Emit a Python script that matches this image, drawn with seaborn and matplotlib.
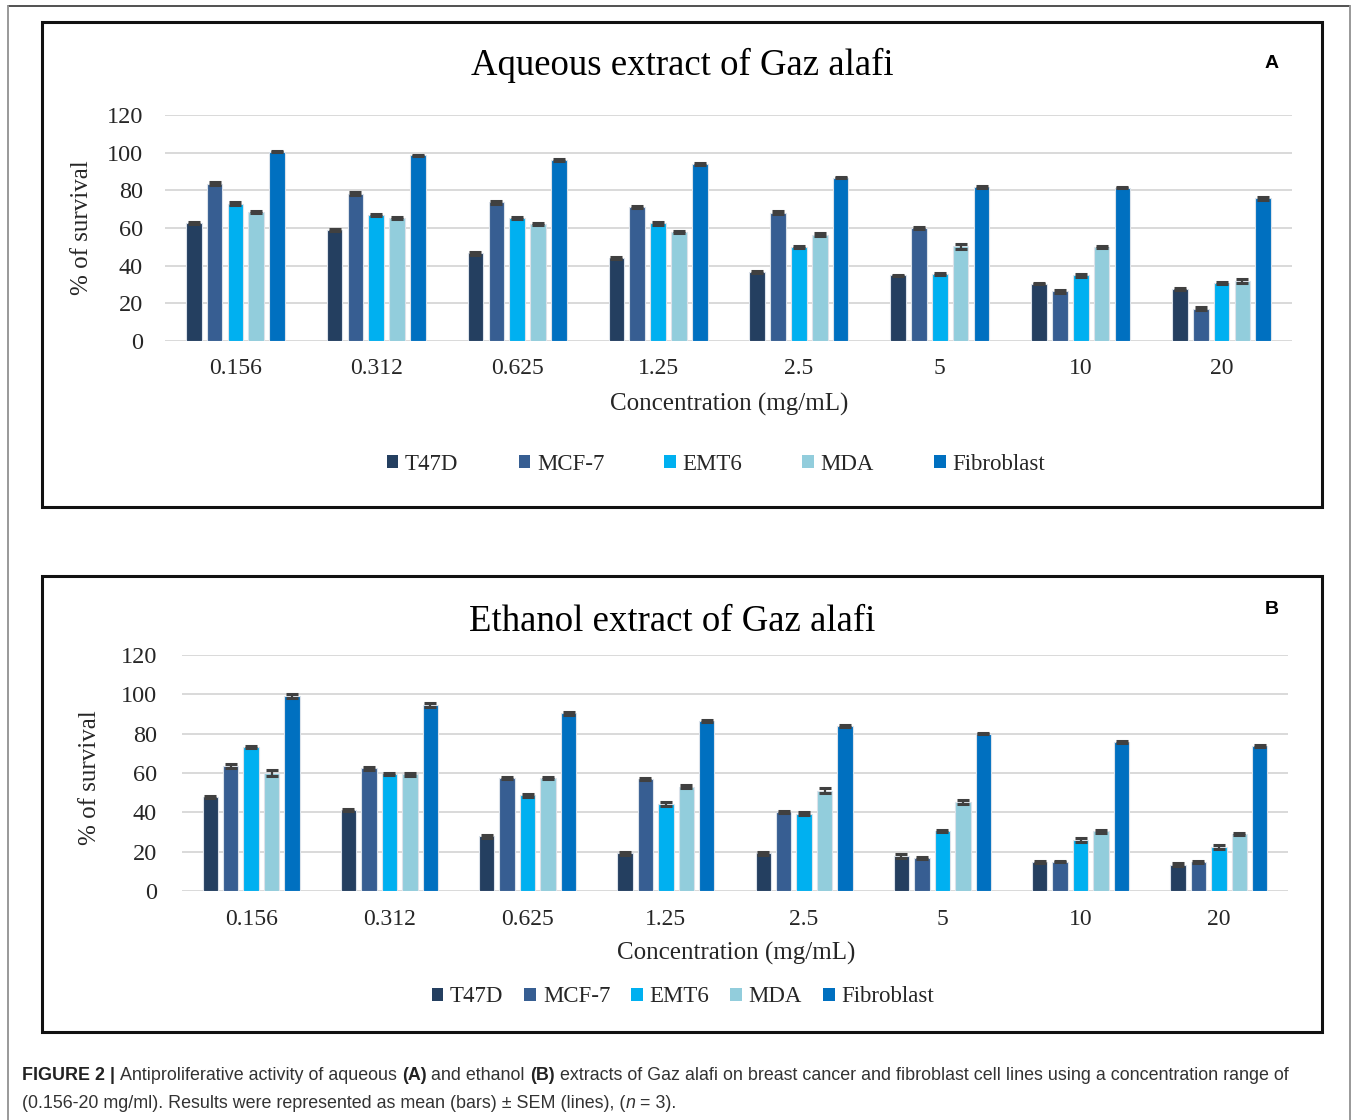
import matplotlib
matplotlib.use("Agg")
import matplotlib.pyplot as plt
import seaborn as sns
import numpy as np
import pandas as pd
from matplotlib import font_manager
from matplotlib.patches import Rectangle, Patch
from matplotlib.lines import Line2D

# ---- data ----
concentrations = ["0.156", "0.312", "0.625", "1.25", "2.5", "5", "10", "20"]
cell_lines = ["T47D", "MCF-7", "EMT6", "MDA", "Fibroblast"]
colors = ["#243F60", "#375E92", "#00B0F0", "#92CDDC", "#0070C0"]

# aqueous extract (A), one row per cell line
aq_means = [
    [62.5, 58.8, 46.6, 44.2, 36.7, 34.8, 30.5, 27.7],
    [83.5, 78.3, 73.6, 71.1, 68.2, 59.9, 26.4, 17.2],
    [73.0, 67.0, 65.2, 62.4, 50.0, 35.6, 34.8, 30.9],
    [68.4, 65.2, 62.0, 57.8, 56.5, 50.2, 50.0, 31.8],
    [100.6, 98.5, 96.0, 94.1, 86.8, 82.0, 81.5, 75.8],
]
aq_sem = [
    [0.5, 0.5, 0.8, 0.5, 0.5, 0.5, 0.5, 0.5],
    [0.8, 0.6, 0.7, 0.6, 0.7, 0.5, 0.7, 0.8],
    [0.7, 0.6, 0.6, 0.6, 0.5, 0.5, 0.6, 0.5],
    [0.7, 0.5, 0.6, 0.6, 0.7, 1.3, 0.5, 1.2],
    [0.5, 0.5, 0.6, 0.5, 0.5, 0.5, 0.5, 0.7],
]

# ethanol extract (B)
eth_means = [
    [47.9, 41.4, 27.9, 19.1, 19.1, 17.8, 14.7, 13.3],
    [63.6, 62.4, 57.4, 56.8, 40.3, 16.6, 15.0, 14.7],
    [73.0, 59.3, 48.7, 44.2, 39.3, 30.3, 25.9, 22.2],
    [60.0, 59.3, 57.5, 53.1, 51.0, 45.3, 30.3, 29.0],
    [99.2, 94.6, 90.3, 86.4, 84.0, 80.0, 75.7, 73.8],
]
eth_sem = [
    [0.5, 0.5, 0.8, 0.8, 0.8, 0.8, 0.7, 0.8],
    [1.2, 0.7, 0.6, 0.6, 0.4, 0.5, 0.5, 0.6],
    [0.5, 0.5, 0.7, 1.2, 0.8, 0.5, 0.8, 1.0],
    [1.3, 0.6, 0.5, 0.8, 1.2, 1.2, 0.8, 0.4],
    [0.9, 0.8, 0.6, 0.5, 0.5, 0.4, 0.4, 0.6],
]

W, H = 1357, 1120

sns.set_theme(style="white")
plt.rcParams["font.family"] = ["Liberation Serif", "DejaVu Serif"]

available = {f.name for f in font_manager.fontManager.ttflist}
cap_font = "Liberation Sans Narrow" if "Liberation Sans Narrow" in available else "Liberation Sans"

fig = plt.figure(figsize=(W / 100, H / 100), dpi=100)
fig.patch.set_facecolor("white")


def fx(x):
    return x / W


def fy(y):
    return 1 - y / H


def long_table(means):
    rows = []
    for line, vals in zip(cell_lines, means):
        for conc, v in zip(concentrations, vals):
            rows.append({"conc": conc, "line": line, "value": v})
    return pd.DataFrame(rows)


def draw_panel(rect, means, sems, title, letter, title_xy, xlab_xy, ylab_xy,
               leg_xy, colspace, tick_pad, xtick_pad, box_px, letter_xy):
    x0, y0, x1, y1 = rect
    ax = fig.add_axes([fx(x0), fy(y1), (x1 - x0) / W, (y1 - y0) / H])
    df = long_table(means)
    sns.barplot(data=df, x="conc", y="value", hue="line", order=concentrations,
                hue_order=cell_lines, palette=colors, saturation=1, width=0.74, gap=0.25,
                errorbar=None, edgecolor="#dbe2ea", linewidth=0.8, ax=ax,
                legend=False, zorder=3)
    bar_sets = list(ax.containers)
    for i, cont in enumerate(bar_sets):
        xs = [p.get_x() + p.get_width() / 2 for p in cont.patches]
        ax.errorbar(xs, means[i], yerr=sems[i], fmt="none", ecolor="#404040",
                    elinewidth=1.6, capsize=4.5, capthick=2.2, zorder=5)
    ax.set_ylim(0, 120)
    ax.set_xlim(-0.5, 7.5)
    ax.set_yticks(range(0, 121, 20))
    ax.set_xlabel("")
    ax.set_ylabel("")
    ax.yaxis.grid(True, color="#d9d9d9", lw=1.4)
    ax.set_axisbelow(True)
    for s in ax.spines.values():
        s.set_visible(False)
    ax.tick_params(axis="y", length=0, pad=tick_pad, labelsize=17.5, labelcolor="#262626")
    ax.tick_params(axis="x", length=0, pad=xtick_pad, labelsize=17, labelcolor="#262626")
    ax.set_facecolor("white")

    fig.text(fx(title_xy[0]), fy(title_xy[1]), title, ha="center", va="center",
             fontsize=26.5, color="black")
    fig.text(fx(xlab_xy[0]), fy(xlab_xy[1]), "Concentration (mg/mL)", ha="center",
             va="center", fontsize=18, color="#262626")
    fig.text(fx(ylab_xy[0]), fy(ylab_xy[1]), "% of survival", ha="center",
             va="center", rotation=90, fontsize=18, color="#262626")
    fig.text(fx(letter_xy[0]), fy(letter_xy[1]), letter, ha="center", va="center",
             fontsize=14, fontweight="bold", family="Liberation Sans", color="black")

    handles = [Patch(facecolor=c, edgecolor="none") for c in colors]
    ax.legend(handles, cell_lines, loc="center", bbox_to_anchor=(fx(leg_xy[0]), fy(leg_xy[1])),
              bbox_transform=fig.transFigure, ncol=5, frameon=False, fontsize=16.5,
              handlelength=0.5, handleheight=0.5, handletextpad=0.3,
              columnspacing=colspace, labelcolor="#262626")

    bx0, by0, bx1, by1 = box_px
    fig.add_artist(Rectangle((fx(bx0), fy(by1)), (bx1 - bx0) / W, (by1 - by0) / H,
                             transform=fig.transFigure, fill=False, lw=2.2,
                             edgecolor="#111111"))
    return ax


draw_panel((165, 115, 1292, 341), aq_means, aq_sem, "Aqueous extract of Gaz alafi", "A",
           (682, 65), (729, 404), (82, 228), (716, 464), 2.62, 16, 12,
           (42, 22, 1322, 507), (1272, 64))
draw_panel((182, 655, 1288, 891), eth_means, eth_sem, "Ethanol extract of Gaz alafi", "B",
           (672, 622), (736, 953), (90, 778), (683, 997), 0.92, 18, 13,
           (42, 576, 1322, 1032), (1272, 609))

# outer frame of the figure page
fig.add_artist(Line2D([fx(8), fx(1350)], [fy(6), fy(6)], transform=fig.transFigure,
                      color="#333333", lw=1.2))
fig.add_artist(Line2D([fx(8), fx(8)], [fy(6), 0], transform=fig.transFigure,
                      color="#999999", lw=1.4))
fig.add_artist(Line2D([fx(1350), fx(1350)], [fy(6), 0], transform=fig.transFigure,
                      color="#999999", lw=1.4))

# caption with mixed styles
renderer = fig.canvas.get_renderer()
cap_color = "#333333"
line1 = [("FIGURE 2 | ", "bold", "normal"),
         ("Antiproliferative activity of aqueous ", "normal", "normal"),
         ("(A)", "bold", "normal"),
         (" and ethanol ", "normal", "normal"),
         ("(B)", "bold", "normal"),
         (" extracts of Gaz alafi on breast cancer and fibroblast cell lines using a concentration range of",
          "normal", "normal")]
line2 = [("(0.156-20 mg/ml). Results were represented as mean (bars) \u00b1 SEM (lines), (", "normal", "normal"),
         ("n", "normal", "italic"),
         (" = 3).", "normal", "normal")]


def seg_width(text, weight, style, size):
    t1 = fig.text(0, 0, text + "l", fontsize=size, fontweight=weight, fontstyle=style,
                  family=cap_font)
    t2 = fig.text(0, 0, "l", fontsize=size, fontweight=weight, fontstyle=style,
                  family=cap_font)
    w = t1.get_window_extent(renderer).width - t2.get_window_extent(renderer).width
    t1.remove()
    t2.remove()
    return w


# fit first line to its width in the reference
base = 12.0
total = sum(seg_width(s, w, st, base) for s, w, st in line1)
cap_size = base * (1293 - 22) / total


def draw_line(segs, y):
    x = 22
    for s, w, st in segs:
        fig.text(fx(x), fy(y), s, fontsize=cap_size, fontweight=w, fontstyle=st,
                 family=cap_font, color="#222222" if w == "bold" else cap_color,
                 ha="left", va="center")
        x += seg_width(s, w, st, cap_size)


draw_line(line1, 1076)
draw_line(line2, 1103)

fig.savefig("out.png", dpi=100, facecolor="white")
